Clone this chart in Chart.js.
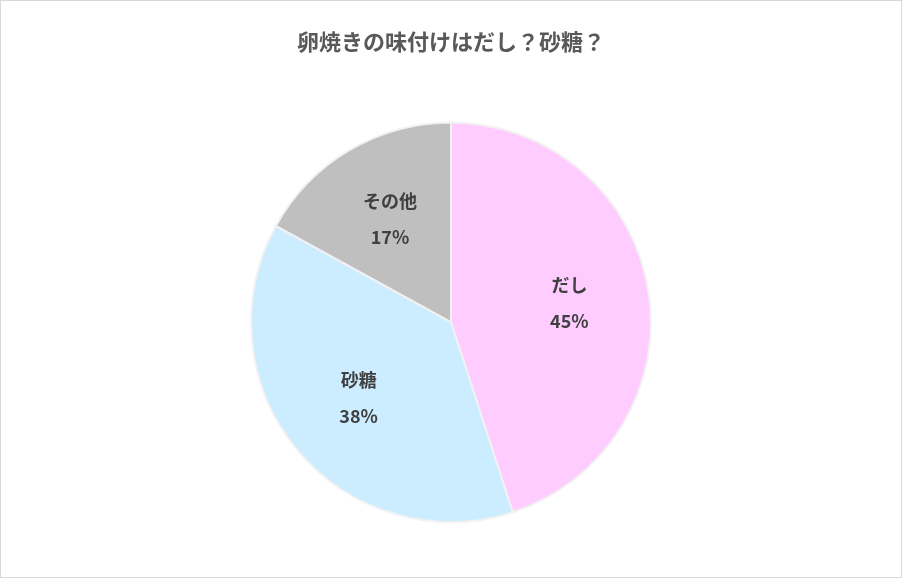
<!DOCTYPE html>
<html>
<head>
<meta charset="utf-8">
<script src="https://cdn.jsdelivr.net/npm/chart.js@4"></script>
<style>
  html, body { margin: 0; padding: 0; background: #fff; }
  #wrap { width: 900px; height: 576px; border: 1px solid #d9d9d9; }
</style>
</head>
<body>
<div id="wrap"><canvas id="chartPie" width="900" height="576"></canvas></div>
<script>
const labels = ['だし', '砂糖', 'その他'];
const values = [45, 38, 17];
const colors = ['#FFCCFF', '#CCECFF', '#BFBFBF'];

const FONT = '"Noto Sans CJK JP", "Noto Sans", sans-serif';

// 각 조각 안쪽 라벨
const sliceLabels = {
  id: 'sliceLabels',
  afterDatasetsDraw(chart) {
    const { ctx } = chart;
    const meta = chart.getDatasetMeta(0);
    ctx.save();
    ctx.fillStyle = '#404040';
    ctx.textAlign = 'center';
    ctx.textBaseline = 'middle';
    ctx.font = `bold 18px ${FONT}`;
    meta.data.forEach((arc, i) => {
      const mid = (arc.startAngle + arc.endAngle) / 2;
      const r = arc.outerRadius * 0.6;
      const x = arc.x + Math.cos(mid) * r;
      const y = arc.y + Math.sin(mid) * r;
      ctx.fillText(labels[i], x, y - 18);
      ctx.fillText(values[i] + '%', x, y + 18);
    });
    ctx.restore();
  }
};

new Chart(document.getElementById('chartPie'), {
  type: 'pie',
  data: {
    labels,
    datasets: [{
      data: values,
      backgroundColor: colors,
      borderColor: '#f2f2f2',
      borderWidth: 2
    }]
  },
  options: {
    responsive: false,
    animation: false,
    layout: { padding: { top: 0, bottom: 54 } },
    plugins: {
      legend: { display: false },
      tooltip: { enabled: false },
      title: {
        display: true,
        text: '卵焼きの味付けはだし？砂糖？',
        color: '#595959',
        font: { family: FONT, size: 22, weight: 'bold' },
        padding: { top: 27, bottom: 67 }
      }
    }
  },
  plugins: [sliceLabels]
});
</script>
</body>
</html>
